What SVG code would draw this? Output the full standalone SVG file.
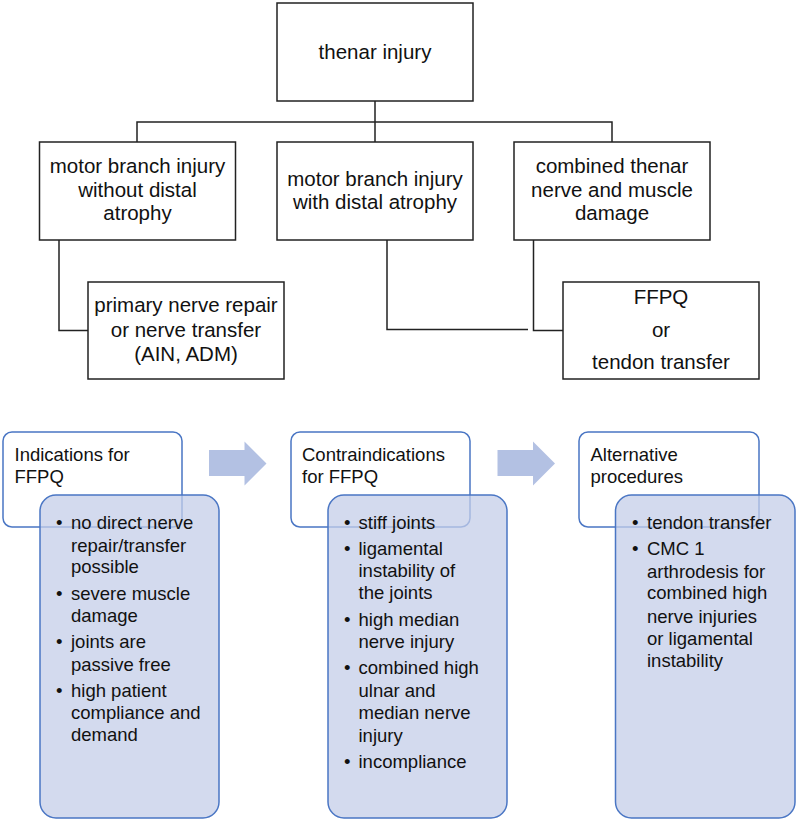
<svg xmlns="http://www.w3.org/2000/svg" width="796" height="820" viewBox="0 0 796 820">
<style>
.box{fill:#fff;stroke:#222;stroke-width:1.5}
.t{font-family:"Liberation Sans",Arial,sans-serif;font-size:20.5px;fill:#111;text-anchor:middle}
.hdr{fill:#fff;stroke:#4A76C4;stroke-width:1.5}
.lst{fill:#C4CDE8;fill-opacity:0.75;stroke:#4A76C4;stroke-width:1.5}
.b{font-family:"Liberation Sans",Arial,sans-serif;font-size:18.5px;fill:#111}
.arr{fill:#B3C1E3}
.c{fill:none;stroke:#222;stroke-width:1.5}
</style>
<g id="connectors">
<path class="c" d="M375 101V142M137 142V122H612V142"/>
<path class="c" d="M59 240V330.5H88"/>
<path class="c" d="M387 240V329.5H528"/>
<path class="c" d="M533.5 240V330.5H563"/>
</g>
<g id="n-thenar">
<rect class="box" x="277" y="3" width="196" height="98"/>
<text class="t" x="375" y="59">thenar injury</text>
</g>
<g id="n-without">
<rect class="box" x="39.5" y="142" width="196" height="98"/>
<text class="t" x="137.5" y="173">motor branch injury</text>
<text class="t" x="137.5" y="197">without distal</text>
<text class="t" x="137.5" y="220">atrophy</text>
</g>
<g id="n-with">
<rect class="box" x="277" y="142" width="196" height="98"/>
<text class="t" x="375" y="186">motor branch injury</text>
<text class="t" x="375" y="209">with distal atrophy</text>
</g>
<g id="n-combined">
<rect class="box" x="514" y="142" width="196" height="98"/>
<text class="t" x="612" y="173">combined thenar</text>
<text class="t" x="612" y="197">nerve and muscle</text>
<text class="t" x="612" y="220">damage</text>
</g>
<g id="n-primary">
<rect class="box" x="88" y="282" width="196" height="97"/>
<text class="t" x="186" y="312">primary nerve repair</text>
<text class="t" x="186" y="337">or nerve transfer</text>
<text class="t" x="186" y="361">(AIN, ADM)</text>
</g>
<g id="n-ffpq">
<rect class="box" x="563" y="282" width="196" height="97"/>
<text class="t" x="661" y="304">FFPQ</text>
<text class="t" x="661" y="337">or</text>
<text class="t" x="661" y="369">tendon transfer</text>
</g>
<g id="n-indications">
<rect class="hdr" x="3" y="432" width="179" height="95" rx="9"/>
<text class="b" x="14.5" y="460.5">Indications for</text>
<text class="b" x="14.5" y="482.5">FFPQ</text>
<rect class="lst" x="40" y="495" width="179" height="323" rx="16"/>
<g class="b">
<text x="56" y="529">•</text><text x="71" y="529">no direct nerve</text>
<text x="71" y="551.5">repair/transfer</text>
<text x="71" y="573">possible</text>
<text x="56" y="599.5">•</text><text x="71" y="599.5">severe muscle</text>
<text x="71" y="622">damage</text>
<text x="56" y="648">•</text><text x="71" y="648">joints are</text>
<text x="71" y="670.5">passive free</text>
<text x="56" y="697">•</text><text x="71" y="697">high patient</text>
<text x="71" y="719">compliance and</text>
<text x="71" y="741">demand</text>
</g>
</g>
<g id="n-contra">
<rect class="hdr" x="291" y="432" width="179" height="95" rx="9"/>
<text class="b" x="302" y="460.5">Contraindications</text>
<text class="b" x="302" y="482.5">for FFPQ</text>
<rect class="lst" x="328" y="495" width="179" height="323" rx="16"/>
<g class="b">
<text x="344" y="529">•</text><text x="358.5" y="529">stiff joints</text>
<text x="344" y="554.5">•</text><text x="358.5" y="554.5">ligamental</text>
<text x="358.5" y="576.5">instability of</text>
<text x="358.5" y="599">the joints</text>
<text x="344" y="625.5">•</text><text x="358.5" y="625.5">high median</text>
<text x="358.5" y="648">nerve injury</text>
<text x="344" y="674">•</text><text x="358.5" y="674">combined high</text>
<text x="358.5" y="696.5">ulnar and</text>
<text x="358.5" y="719">median nerve</text>
<text x="358.5" y="742">injury</text>
<text x="344" y="767.5">•</text><text x="358.5" y="767.5">incompliance</text>
</g>
</g>
<g id="n-alt">
<rect class="hdr" x="579" y="432" width="180" height="95" rx="9"/>
<text class="b" x="590.5" y="460.5">Alternative</text>
<text class="b" x="590.5" y="482.5">procedures</text>
<rect class="lst" x="615.5" y="495" width="179.5" height="323" rx="16"/>
<g class="b">
<text x="632" y="529">•</text><text x="647" y="529">tendon transfer</text>
<text x="632" y="554.5">•</text><text x="647" y="554.5">CMC 1</text>
<text x="647" y="577.5">arthrodesis for</text>
<text x="647" y="599">combined high</text>
<text x="647" y="622.5">nerve injuries</text>
<text x="647" y="644.5">or ligamental</text>
<text x="647" y="666.5">instability</text>
</g>
</g>
<g id="arrows">
<path class="arr" d="M209 450H244.5V441.5L266.5 463.5L244.5 485.5V476H209Z"/>
<path class="arr" d="M497.5 450H533V441.5L555 463.5L533 485.5V476H497.5Z"/>
</g>
</svg>
